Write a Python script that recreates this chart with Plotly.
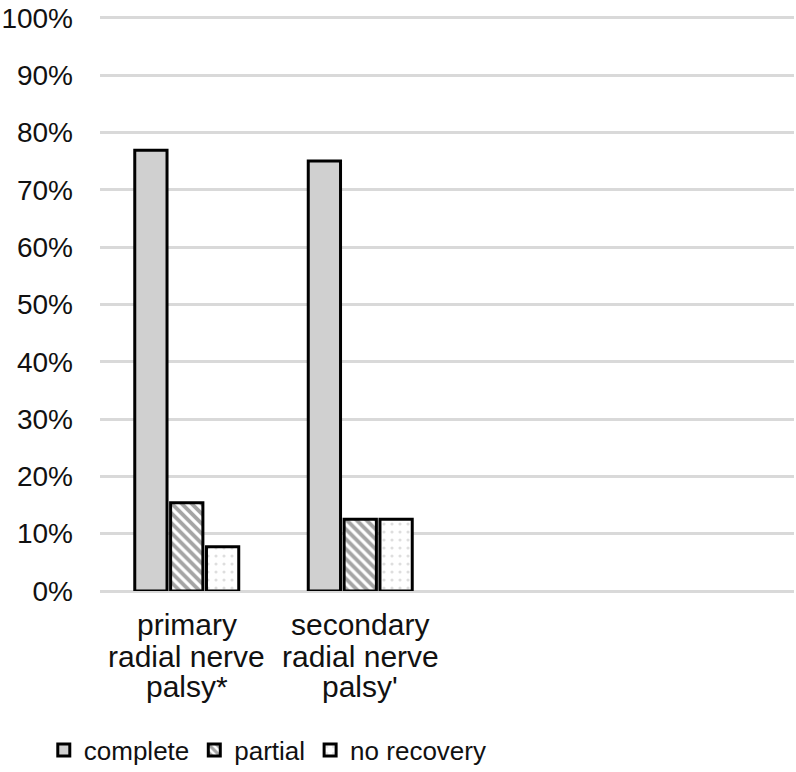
import plotly.graph_objects as go

categories = ["primary radial nerve palsy*", "secondary radial nerve palsy'"]
category_lines = [["primary", "radial nerve", "palsy*"], ["secondary", "radial nerve", "palsy'"]]
complete = [0.769, 0.75]
partial = [0.154, 0.125]
no_recovery = [0.077, 0.125]
tick_vals = [0, 0.1, 0.2, 0.3, 0.4, 0.5, 0.6, 0.7, 0.8, 0.9, 1.0]
tick_text = ["0%", "10%", "20%", "30%", "40%", "50%", "60%", "70%", "80%", "90%", "100%"]

font = "Liberation Sans, Arial, sans-serif"
line = dict(color="black", width=3)

fig = go.Figure()
fig.add_trace(go.Bar(name="complete", x=categories, y=complete,
                     marker=dict(color="#d0d0d0", line=line)))
fig.add_trace(go.Bar(name="partial", x=categories, y=partial,
                     marker=dict(color="white", line=line,
                                 pattern=dict(shape="\\", fgcolor="#4a4a4a", bgcolor="white",
                                              size=7, solidity=0.55, fillmode="overlay"))))
fig.add_trace(go.Bar(name="no recovery", x=categories, y=no_recovery,
                     marker=dict(color="white", line=line,
                                 pattern=dict(shape=".", fgcolor="#bdbdbd", bgcolor="white",
                                              size=8, solidity=0.12, fillmode="overlay"))))

W, H = 796, 772
M_L, M_R, M_T, M_B = 100, 2, 16, 181
plot_top, plot_bottom = M_T, H - M_B

# multi-line category labels with tight line spacing (pixel centers)
line_centers_px = [624, 656, 686]
for ci, lines in enumerate(category_lines):
    for li, txt in enumerate(lines):
        fig.add_annotation(x=categories[ci], xref="x", yref="paper",
                           y=(plot_bottom - line_centers_px[li]) / (plot_bottom - plot_top),
                           text=txt, showarrow=False, xanchor="center", yanchor="middle",
                           font=dict(size=30, color="#111111", family=font))

fig.update_layout(
    width=W, height=H,
    margin=dict(l=M_L, r=M_R, t=M_T, b=M_B, autoexpand=False),
    paper_bgcolor="white", plot_bgcolor="white",
    barmode="group", bargap=0.38, bargroupgap=0.1,
    font=dict(family=font, size=26, color="#111111"),
    showlegend=True,
    legend=dict(orientation="h", x=-0.081, xanchor="left", y=-0.236, yanchor="top",
                font=dict(size=26), itemwidth=30, traceorder="normal"),
    xaxis=dict(type="category", range=[-0.5, 3.5], showgrid=False, showline=False,
               ticks="", showticklabels=False, automargin=False),
    yaxis=dict(range=[0, 1.003], tickvals=tick_vals, ticktext=tick_text,
               showgrid=True, gridcolor="#d9d9d9", gridwidth=3,
               zeroline=True, zerolinecolor="#d9d9d9", zerolinewidth=3,
               showline=False, ticks="", ticklabelstandoff=26, tickfont=dict(size=28),
               ticklabeloverflow="allow", automargin=False),
)

fig.write_html("out.html", config={"displayModeBar": False},
               post_script="document.body.style.margin='0px';")
